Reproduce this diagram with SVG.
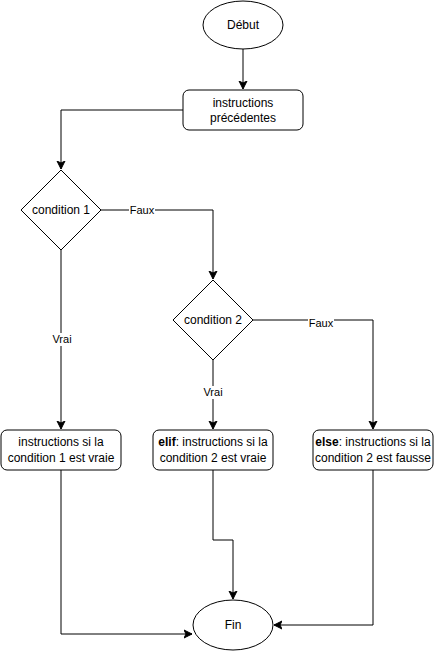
<svg xmlns="http://www.w3.org/2000/svg" width="434" height="651" viewBox="0 0 434 651">
<style>
.n{fill:#fff;stroke:#000;stroke-width:1}
.t{font-family:"Liberation Sans",Arial,sans-serif;font-size:12px;fill:#000;text-anchor:middle}
.l{font-family:"Liberation Sans",Arial,sans-serif;font-size:11px;fill:#000;text-anchor:middle}
.e{fill:none;stroke:#000;stroke-width:1}
.bg{fill:#fff}
</style>
<defs>
<marker id="a" markerUnits="userSpaceOnUse" markerWidth="10" markerHeight="10" viewBox="0 0 10 10" refX="8" refY="5" orient="auto">
<path d="M0,1 L8,5 L0,9 L2,5 Z" fill="#000" stroke="#000" stroke-width="1"/>
</marker>
</defs>
<g id="connectors">
<path class="e" d="M243,49 V89" marker-end="url(#a)"/>
<path class="e" d="M183,110 H61 V169" marker-end="url(#a)"/>
<path class="e" d="M101,210 H213 V279" marker-end="url(#a)"/>
<path class="e" d="M61,250 V429" marker-end="url(#a)"/>
<path class="e" d="M253,320 H373 V429" marker-end="url(#a)"/>
<path class="e" d="M213,360 V429" marker-end="url(#a)"/>
<path class="e" d="M61,470 V634 H192" marker-end="url(#a)"/>
<path class="e" d="M213,470 V540 H233 V599" marker-end="url(#a)"/>
<path class="e" d="M373,470 V625 H274" marker-end="url(#a)"/>
<rect class="bg" x="129" y="204" width="26" height="13"/>
<text class="l" x="142" y="214">Faux</text>
<rect class="bg" x="308" y="317" width="26" height="13"/>
<text class="l" x="321" y="327">Faux</text>
<rect class="bg" x="51" y="333" width="23" height="13"/>
<text class="l" x="62" y="343">Vrai</text>
<rect class="bg" x="202" y="386" width="23" height="13"/>
<text class="l" x="213" y="396">Vrai</text>
</g>
<g id="debut">
<ellipse class="n" cx="243" cy="25" rx="40" ry="24"/>
<text class="t" x="243" y="29">Début</text>
</g>
<g id="precedentes">
<rect class="n" x="183" y="90" width="120" height="40" rx="6"/>
<text class="t" x="243" y="107">instructions</text>
<text class="t" x="243" y="122">précédentes</text>
</g>
<g id="cond1">
<path class="n" d="M61,170 L101,210 L61,250 L21,210 Z"/>
<text class="t" x="61" y="214">condition 1</text>
</g>
<g id="cond2">
<path class="n" d="M213,280 L253,320 L213,360 L173,320 Z"/>
<text class="t" x="213" y="324">condition 2</text>
</g>
<g id="vrai1">
<rect class="n" x="1" y="430" width="120" height="40" rx="6"/>
<text class="t" x="61" y="446">instructions si la</text>
<text class="t" x="61" y="462">condition 1 est vraie</text>
</g>
<g id="elif">
<rect class="n" x="153" y="430" width="120" height="40" rx="6"/>
<text class="t" x="213" y="446"><tspan font-weight="bold">elif</tspan>: instructions si la</text>
<text class="t" x="213" y="462">condition 2 est vraie</text>
</g>
<g id="else">
<rect class="n" x="313" y="430" width="120" height="40" rx="6"/>
<text class="t" x="373" y="446"><tspan font-weight="bold">else</tspan>: instructions si la</text>
<text class="t" x="373" y="462">condition 2 est fausse</text>
</g>
<g id="fin">
<ellipse class="n" cx="233" cy="625" rx="40" ry="25"/>
<text class="t" x="233" y="629">Fin</text>
</g>
</svg>
